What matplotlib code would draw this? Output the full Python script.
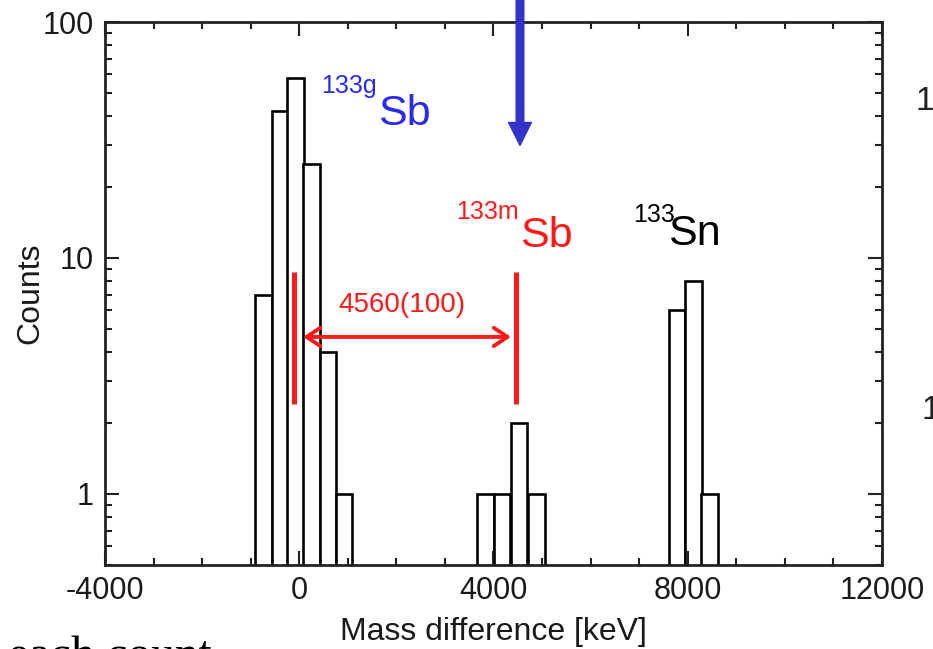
import matplotlib
matplotlib.use("Agg")
import matplotlib.pyplot as plt
from matplotlib.ticker import FixedLocator, MultipleLocator, NullFormatter

plt.rcParams['font.family'] = ['Liberation Sans', 'DejaVu Sans']
plt.rcParams['axes.unicode_minus'] = False

# histogram of mass differences (bin centres in keV, counts per bin)
bin_centers = [-740, -400, -75, 255, 590, 920,
               3835, 4180, 4530, 4890,
               7780, 8115, 8450]
counts = [7, 42, 58, 25, 4, 1,
          1, 1, 2, 1,
          6, 8, 1]
bin_width = 340

# ground / isomer marker lines and their separation
ground_pos = -100
isomer_sep = 4560
isomer_err = 100
marker_range = [2.4, 8.7]
blue_arrow_x = 4546

x_ticks = [-4000, 0, 4000, 8000, 12000]
y_ticks = [1, 10, 100]

fig = plt.figure(figsize=(9.33, 6.49), dpi=100)
ax = fig.add_axes([0.1125, 0.1294, 0.8328, 0.8367])

ax.bar(bin_centers, counts, width=bin_width, color='white',
       edgecolor='black', linewidth=1.9)

ax.set_yscale('log')
ax.set_xlim(-4000, 12000)
ax.set_ylim(0.5, 100)

ax.xaxis.set_major_locator(FixedLocator(x_ticks))
ax.xaxis.set_minor_locator(MultipleLocator(1000))
ax.yaxis.set_major_locator(FixedLocator(y_ticks))
ax.set_yticklabels([str(v) for v in y_ticks])
ax.yaxis.set_minor_formatter(NullFormatter())
ax.tick_params(which='both', direction='in', top=True, right=True,
               labelsize=22, width=1.5, color='#222222', labelcolor='#1a1a1a')
ax.tick_params(which='major', length=10, pad=8)
ax.tick_params(which='minor', length=5)
for s in ax.spines.values():
    s.set_linewidth(2)
    s.set_color('#222222')

ax.set_xlabel('Mass difference [keV]', fontsize=23, labelpad=8, color='#1a1a1a')
ax.set_ylabel('Counts', fontsize=23, labelpad=-2, color='#1a1a1a')

# red markers for ground state and isomer
red = '#ff1a1a'
isomer_pos = ground_pos + isomer_sep
ax.vlines([ground_pos, isomer_pos], marker_range[0], marker_range[1],
          colors=red, linewidth=3.6)
ax.annotate('', xy=(ground_pos + 180, 4.63), xytext=(isomer_pos - 100, 4.63),
            arrowprops=dict(arrowstyle='<->,head_length=0.45,head_width=0.3',
                            color=red, lw=2.8, mutation_scale=22,
                            shrinkA=0, shrinkB=0))
ax.text((ground_pos + isomer_pos) / 2 - 60, 5.9,
        f'{isomer_sep}({isomer_err})', color=red, fontsize=20,
        ha='center', va='baseline')

# nuclide labels
blue_txt = '#2b2bf0'
ax.text(461, 50, '133g', color=blue_txt, fontsize=18, ha='left', va='baseline')
ax.text(1622, 36.6, 'Sb', color=blue_txt, fontsize=31, ha='left', va='baseline')
ax.text(3228, 14.6, '133m', color=red, fontsize=18, ha='left', va='baseline')
ax.text(4546, 11.1, 'Sb', color=red, fontsize=31, ha='left', va='baseline')
ax.text(6873, 14.2, '133', color='black', fontsize=18, ha='left', va='baseline')
ax.text(7594, 11.3, 'Sn', color='black', fontsize=31, ha='left', va='baseline')

# blue arrow coming from above the frame
ax.annotate('', xy=(blue_arrow_x, 30), xycoords='data',
            xytext=(blue_arrow_x, 1.0), textcoords=('data', 'figure fraction'),
            arrowprops=dict(width=5.5, headwidth=16.5, headlength=16.5,
                            color='#3333c8', shrink=0),
            annotation_clip=False)

# neighbouring text cut off at the figure edges
fig.text(916 / 933, 1 - 110 / 649, '1', fontsize=24, color='#222222',
         ha='left', va='baseline')
fig.text(922 / 933, 1 - 419 / 649, '1', fontsize=24, color='#222222',
         ha='left', va='baseline')
fig.text(8 / 933, 1 - 668 / 649, 'each count', fontsize=34,
         family=['Liberation Serif', 'DejaVu Serif'], color='black',
         ha='left', va='baseline')

fig.savefig('out.png', dpi=100)
